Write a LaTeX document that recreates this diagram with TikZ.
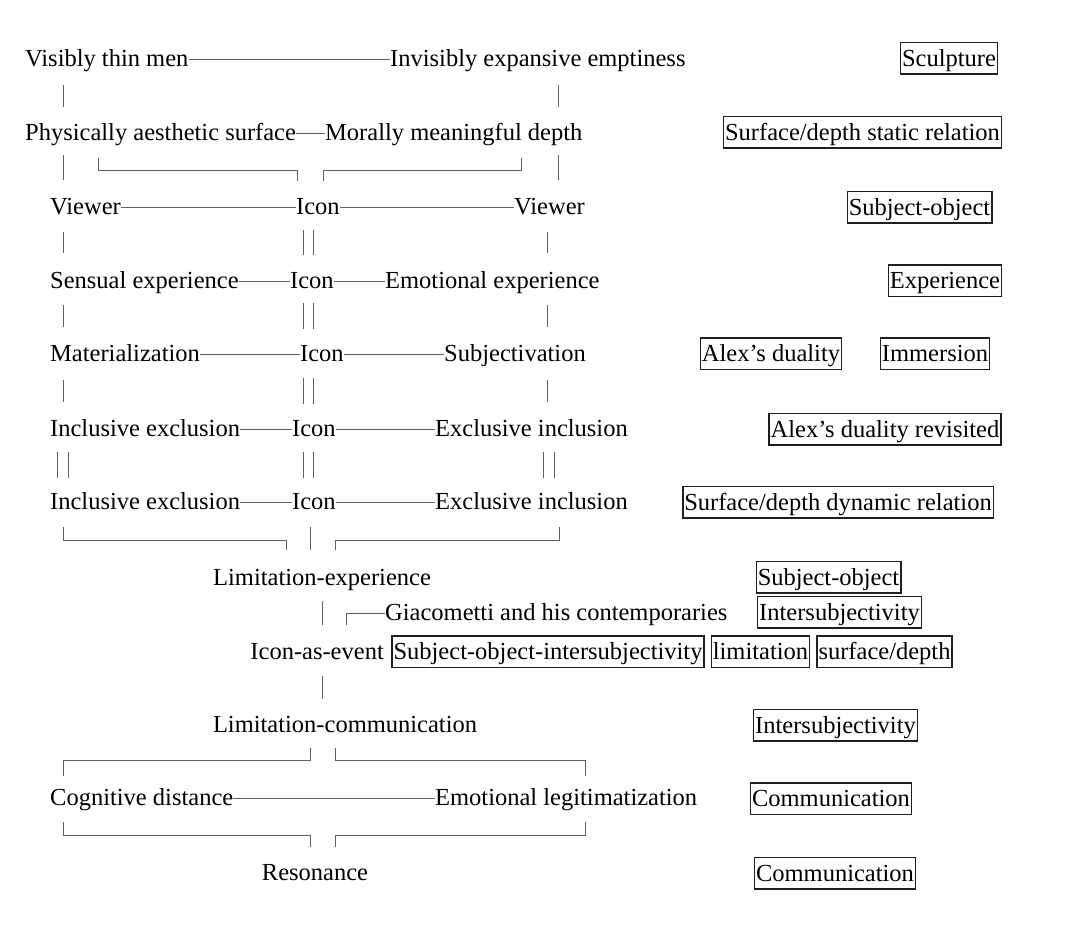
\documentclass[tikz,border=0pt]{standalone}
\usepackage{fontspec}
\setmainfont{Liberation Serif}
\begin{document}
\begin{tikzpicture}[x=1pt,y=-1pt,
  txt/.style={inner sep=0pt, anchor=west, font=\fontsize{24.5}{29}\selectfont, text height=17pt, text depth=2pt},
  box/.style={draw=black!88, line width=1.5pt, inner xsep=1.5pt, inner ysep=3pt, font=\fontsize{24.5}{29}\selectfont, text height=21pt, text depth=4.5pt},
  conn/.style={draw=black!62, line width=0.9pt}]
\useasboundingbox[fill=white] (0,0) rectangle (1080,929);
% row 1
\node[txt] (v1) at (25,59) {Visibly thin men};
\node[txt] (v2) at (390,59) {Invisibly expansive emptiness};
\draw[conn] (v1.east) -- (v2.west);
\node[box] (b1) at (949,58) {Sculpture};
\draw[conn] (63,85) -- (63,107) (558,85) -- (558,107);
% row 2
\node[txt] (p1) at (25,133) {Physically aesthetic surface};
\node[txt] (p2) at (325,133) {Morally meaningful depth};
\draw[conn] (p1.east) -- (p2.west);
\node[box] (b2) at (862.5,132) {Surface/depth static relation};
\draw[conn] (63,155) -- (63,180) (558,155) -- (558,180);
\draw[conn] (98,158) -- (98,170) -- (297,170) -- (297,181);
\draw[conn] (323,181) -- (323,170) -- (521,170) -- (521,158);
% row 3
\node[txt] (r3a) at (50,207) {Viewer};
\node[txt] (r3b) at (296,207) {Icon};
\node[txt] (r3c) at (514,207) {Viewer};
\draw[conn] (r3a.east) -- (r3b.west) (r3b.east) -- (r3c.west);
\node[box] (b3) at (919.5,207) {Subject-object};
\draw[conn] (63,232) -- (63,253) (303,230) -- (303,255) (313,230) -- (313,255) (547,232) -- (547,253);
% row 4
\node[txt] (r4a) at (50,281) {Sensual experience};
\node[txt] (r4b) at (290,281) {Icon};
\node[txt] (r4c) at (385,281) {Emotional experience};
\draw[conn] (r4a.east) -- (r4b.west) (r4b.east) -- (r4c.west);
\node[box] (b4) at (945,280.5) {Experience};
\draw[conn] (63,305) -- (63,327) (303,303) -- (303,329) (313,303) -- (313,329) (547,305) -- (547,327);
% row 5
\node[txt] (r5a) at (50,354) {Materialization};
\node[txt] (r5b) at (300,354) {Icon};
\node[txt] (r5c) at (444,354) {Subjectivation};
\draw[conn] (r5a.east) -- (r5b.west) (r5b.east) -- (r5c.west);
\node[box] (b5a) at (771,353.5) {Alex’s duality};
\node[box] (b5b) at (935,353.5) {Immersion};
\draw[conn] (63,380) -- (63,402) (303,378) -- (303,404) (313,378) -- (313,404) (547,380) -- (547,402);
% row 6
\node[txt] (r6a) at (50,429) {Inclusive exclusion};
\node[txt] (r6b) at (292,429) {Icon};
\node[txt] (r6c) at (435,429) {Exclusive inclusion};
\draw[conn] (r6a.east) -- (r6b.west) (r6b.east) -- (r6c.west);
\node[box] (b6) at (885,429) {Alex’s duality revisited};
\draw[conn] (57,452) -- (57,478) (68,452) -- (68,478) (303,452) -- (303,478) (313,452) -- (313,478) (543,452) -- (543,478) (554,452) -- (554,478);
% row 7
\node[txt] (r7a) at (50,502) {Inclusive exclusion};
\node[txt] (r7b) at (292,502) {Icon};
\node[txt] (r7c) at (435,502) {Exclusive inclusion};
\draw[conn] (r7a.east) -- (r7b.west) (r7b.east) -- (r7c.west);
\node[box] (b7) at (838,502) {Surface/depth dynamic relation};
\draw[conn] (63,527) -- (63,540) -- (286,540) -- (286,550);
\draw[conn] (310,527) -- (310,550);
\draw[conn] (559,527) -- (559,540) -- (335,540) -- (335,550);
% row 8
\node[txt, anchor=center] (r8) at (322,578) {Limitation-experience};
\node[box] (b8) at (828.5,577) {Subject-object};
\draw[conn] (322,601) -- (322,625);
\node[txt] (gia) at (385,613) {Giacometti and his contemporaries};
\draw[conn] (346,625) -- (346,613) -- (gia.west);
\node[box] (b8b) at (839.5,612) {Intersubjectivity};
% row 9
\node[txt, anchor=east] (r9) at (384,652) {Icon-as-event};
\node[box] (b9a) at (548,651.5) {Subject-object-intersubjectivity};
\node[box] (b9b) at (760.5,651.5) {limitation};
\node[box] (b9c) at (884.5,651.5) {surface/depth};
\draw[conn] (322,676) -- (322,699);
% row 10
\node[txt, anchor=center] (r10) at (345,725) {Limitation-communication};
\node[box] (b10) at (835.5,725) {Intersubjectivity};
\draw[conn] (310,748) -- (310,760) -- (63,760) -- (63,776);
\draw[conn] (335,748) -- (335,760) -- (585,760) -- (585,776);
% row 11
\node[txt] (r11a) at (50,798) {Cognitive distance};
\node[txt] (r11b) at (435,798) {Emotional legitimatization};
\draw[conn] (r11a.east) -- (r11b.west);
\node[box] (b11) at (831,798.5) {Communication};
\draw[conn] (63,822) -- (63,835) -- (310,835) -- (310,847);
\draw[conn] (335,847) -- (335,835) -- (585,835) -- (585,822);
% row 12
\node[txt, anchor=center] (r12) at (315,873) {Resonance};
\node[box] (b12) at (835,873) {Communication};
\end{tikzpicture}
\end{document}
